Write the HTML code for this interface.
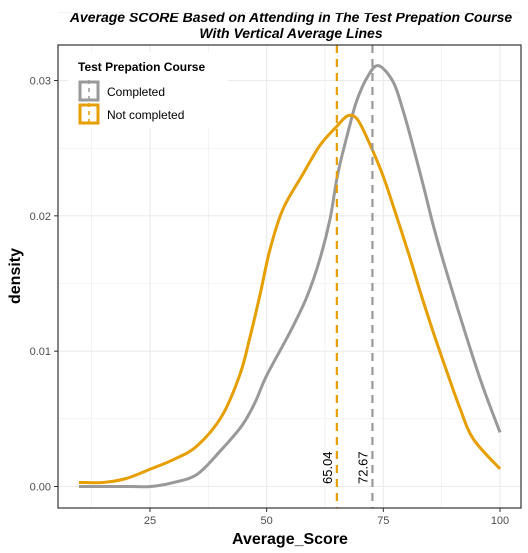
<!DOCTYPE html>
<html><head><meta charset="utf-8"><style>
body{margin:0;background:#fff}
svg{display:block;font-family:"Liberation Sans",sans-serif}
</style></head><body>
<svg id="chart" width="528" height="553">
<text x="291" y="22" text-anchor="middle" font-size="14" font-weight="bold" font-style="italic">Average SCORE Based on Attending in The Test Prepation Course</text>
<text x="291" y="38" text-anchor="middle" font-size="14" font-weight="bold" font-style="italic">With Vertical Average Lines</text>
<g id="grid"></g>
<g id="marks"></g>
<rect x="58" y="45" width="463" height="463" fill="none" stroke="#333" stroke-width="1.2"/>
<g id="axes"></g>
<text x="290" y="544" text-anchor="middle" font-size="16" font-weight="bold">Average_Score</text>
<text transform="translate(20,276) rotate(-90)" text-anchor="middle" font-size="16" font-weight="bold">density</text>
<g>
<rect x="68" y="52" width="160" height="76" fill="#fff"/>
<text x="78" y="71" font-size="12" font-weight="bold">Test Prepation Course</text>
<g>
<rect x="80" y="82" width="18" height="18" fill="none" stroke="#999" stroke-width="3"/>
<line x1="89" y1="80" x2="89" y2="102" stroke="#999" stroke-width="1.5" stroke-dasharray="4,4"/>
<text x="107" y="96" font-size="12">Completed</text></g>
<g>
<rect x="80" y="105" width="18" height="18" fill="none" stroke="#E69F00" stroke-width="3"/>
<line x1="89" y1="103" x2="89" y2="125" stroke="#E69F00" stroke-width="1.5" stroke-dasharray="4,4"/>
<text x="107" y="119" font-size="12">Not completed</text></g>
</g>
</svg>
<script>
const grayX=[9.8,20,25.2,30.1,35.1,40,44.7,47.5,50,55,58.6,61.4,63.6,65.3,67.9,69.3,71.5,73.9,77.1,79.3,81.4,83.6,85.7,87.9,90.7,93.6,96.4,100];
const grayY=[0,0,0,0.0003,0.0009,0.0026,0.0045,0.0062,0.0082,0.0114,0.014,0.0168,0.0198,0.0232,0.0268,0.0285,0.0302,0.0311,0.0299,0.0277,0.0251,0.0222,0.0193,0.0166,0.0134,0.0102,0.0073,0.004];
const orangeX=[9.8,15,20,25.2,30.1,35.1,40.4,44.3,46.4,48.6,50.7,53.5,57.8,61.4,65,67.4,69.5,72.1,75,77.9,80.7,82.9,85.7,88.6,91.4,94.3,100];
const orangeY=[0.0003,0.0003,0.0006,0.0013,0.002,0.003,0.0052,0.0083,0.011,0.0142,0.0175,0.0205,0.0231,0.0252,0.0266,0.0274,0.0271,0.0253,0.0229,0.0199,0.0169,0.0144,0.0114,0.0085,0.0058,0.0035,0.0013];
const means=[65.04,72.67];
const meanLabels=["65.04","72.67"];
const meanColors=["#E69F00","#999999"];
const xTicks=[25,50,75,100];
const yTicks=[0,0.01,0.02,0.03];
const yTickLabels=["0.00","0.01","0.02","0.03"];
const NS="http://www.w3.org/2000/svg";
const X=v=>33.3+v*4.667;
const Y=d=>486.5-d*13533;
function mk(t,a,p){const e=document.createElementNS(NS,t);for(const k in a)e.setAttribute(k,a[k]);p.appendChild(e);return e;}
const grid=document.getElementById('grid'),marks=document.getElementById('marks'),axes=document.getElementById('axes');
xTicks.forEach((v,i)=>{
 const g=mk('line',{x1:X(v),x2:X(v),y1:45,y2:508,stroke:'#ebebeb','stroke-width':1.1},grid);
 
 
 const m=v-12.5;const gm=mk('line',{x1:X(m),x2:X(m),y1:45,y2:508,stroke:'#ebebeb','stroke-width':0.6},grid);
 
 
 const t=mk('line',{x1:X(v),x2:X(v),y1:508,y2:512,stroke:'#333'},axes);
 
 
 const l=mk('text',{x:X(v),y:524,'text-anchor':'middle','font-size':11,fill:'#4d4d4d'},axes);l.textContent=v;
 
 
});
yTicks.forEach((v,i)=>{
 const g=mk('line',{x1:58,x2:521,y1:Y(v),y2:Y(v),stroke:'#ebebeb','stroke-width':1.1},grid);
 
 
 const gm=mk('line',{x1:58,x2:521,y1:Y(v+0.005),y2:Y(v+0.005),stroke:'#ebebeb','stroke-width':0.6},grid);
 
 
 const t=mk('line',{x1:54,x2:58,y1:Y(v),y2:Y(v),stroke:'#333'},axes);
 
 
 const l=mk('text',{x:51,y:Y(v)+4,'text-anchor':'end','font-size':11,fill:'#4d4d4d'},axes);l.textContent=yTickLabels[i];
 
 
});
function path(xs,ys){
 const p=xs.map((x,i)=>[X(x),Y(ys[i])]);let d='M'+p[0][0]+','+p[0][1];
 for(let i=0;i<p.length-1;i++){const p0=p[i-1]||p[i],p1=p[i],p2=p[i+1],p3=p[i+2]||p2;
  d+=' C'+(p1[0]+(p2[0]-p0[0])/6)+','+(p1[1]+(p2[1]-p0[1])/6)+' '+(p2[0]-(p3[0]-p1[0])/6)+','+(p2[1]-(p3[1]-p1[1])/6)+' '+p2[0]+','+p2[1];}
 return d;}
const c1=mk('path',{d:path(grayX,grayY),fill:'none',stroke:'#999999','stroke-width':3},marks);


const c2=mk('path',{d:path(orangeX,orangeY),fill:'none',stroke:'#E69F00','stroke-width':3},marks);


means.forEach((m,i)=>{
 const l=mk('line',{x1:X(m),x2:X(m),y1:45,y2:508,stroke:meanColors[i],'stroke-width':2.2,'stroke-dasharray':'8,6'},marks);
 
 
 const t=mk('text',{transform:'translate('+(X(m)-5)+',484) rotate(-90)','font-size':13},marks);t.textContent=meanLabels[i];
 
 
});
</script>
</body></html>
